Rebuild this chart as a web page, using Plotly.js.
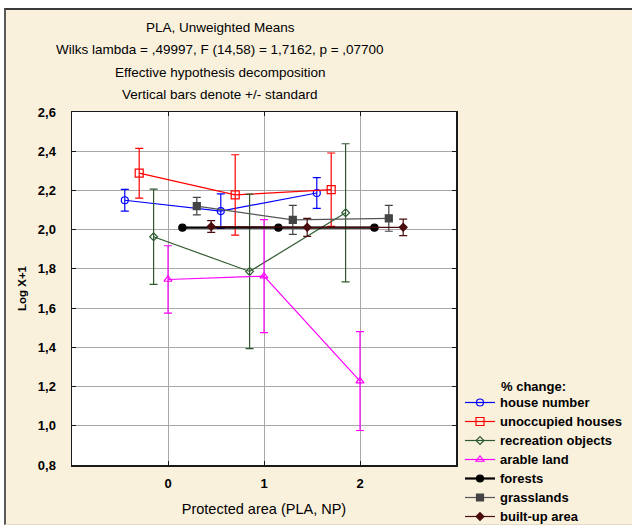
<!DOCTYPE html>
<html>
<head>
<meta charset="utf-8">
<script src="https://cdn.plot.ly/plotly-3.0.1.min.js"></script>
<style>
  html, body { margin: 0; padding: 0; background: #ffffff; }
  #frame { position: absolute; left: 4px; top: 8px; width: 626px; height: 514px;
           background: #FAF1DD; border-top: 2px solid #3a3a3a; border-left: 2px solid #5a5a5a;
           border-bottom: 1px solid #e6dcc6; }
  #chart { position: absolute; left: 0; top: 0; width: 632px; height: 526px; }
</style>
</head>
<body>
<div id="frame"></div>
<div id="chart"></div>
<script>
// ---- data ----
var categories = [0, 1, 2];
var tickLabels = ['0', '1', '2'];
var seriesNames = ['house number', 'unoccupied houses', 'recreation objects', 'arable land', 'forests', 'grasslands', 'built-up area'];

var houseNumber      = [2.150, 2.095, 2.187];
var houseNumberErr   = [0.055, 0.088, 0.078];
var unoccupied       = [2.288, 2.177, 2.204];
var unoccupiedErr    = [0.127, 0.205, 0.187];
var recreation       = [1.964, 1.787, 2.086];
var recreationErr    = [0.243, 0.394, 0.352];
var arable           = [1.746, 1.763, 1.228];
var arableErr        = [0.172, 0.288, 0.252];
var forests          = [2.010, 2.010, 2.010];
var forestsErr       = [0.004, 0.004, 0.004];
var grasslands       = [2.120, 2.050, 2.058];
var grasslandsErr    = [0.045, 0.074, 0.066];
var builtUp          = [2.016, 2.012, 2.012];
var builtUpErr       = [0.030, 0.046, 0.042];

var allValues = [houseNumber, unoccupied, recreation, arable, forests, grasslands, builtUp];
var allErrors = [houseNumberErr, unoccupiedErr, recreationErr, arableErr, forestsErr, grasslandsErr, builtUpErr];

// ---- styling ----
var dodge = [-0.45, -0.30, -0.15, 0, 0.15, 0.30, 0.45];
var colors = ['#0000FF', '#FF0000', '#2F5A2F', '#FF00FF', '#000000', '#444444', '#4A0C0C'];
var lineColors = ['#0000FF', '#FF0000', '#2F5A2F', '#FF00FF', '#000000', '#555555', '#4A0C0C'];
var symbols = ['circle-open', 'square-open', 'diamond-open', 'triangle-up-open', 'circle', 'square', 'diamond'];
var msizes = [7, 8, 6, 7, 7, 7, 6];
var lwidths = [1.2, 1.2, 1.2, 1.2, 2.2, 1.2, 1.2];

var traces = seriesNames.map(function (name, i) {
  return {
    type: 'scatter',
    mode: 'lines+markers',
    name: '<span style="font-size:13px">' + name + '</span>',
    x: categories.map(function (c) { return c + dodge[i]; }),
    y: allValues[i],
    error_y: { type: 'data', array: allErrors[i], visible: true, color: colors[i], thickness: 1.2, width: 4 },
    line: { color: lineColors[i], width: lwidths[i] },
    marker: { color: colors[i], symbol: symbols[i], size: msizes[i], line: { color: colors[i], width: 1.2 } }
  };
});

var L = 72, T = 112, W = 384, H = 353;
function px(x) { return (x - L) / W; }
function py(y) { return (T + H - y) / H; }

var titleFont = { family: 'Liberation Sans, Arial, sans-serif', size: 13.5, color: '#000' };
var titleLines = ['PLA, Unweighted Means',
  'Wilks lambda = ,49997, F (14,58) = 1,7162, p = ,07700',
  'Effective hypothesis decomposition',
  'Vertical bars denote +/- standard'];
var titleY = [27, 49.5, 72.5, 95];
var annotations = titleLines.map(function (t, i) {
  return { text: t, xref: 'paper', yref: 'paper', x: px(220), y: py(titleY[i]),
           xanchor: 'center', yanchor: 'middle', showarrow: false, font: titleFont };
});
annotations.push({ text: '% change:', xref: 'paper', yref: 'paper', x: px(499), y: py(386),
  xanchor: 'left', yanchor: 'middle', showarrow: false,
  font: { family: 'Liberation Sans, Arial, sans-serif', size: 13, weight: 'bold', color: '#000' } });

var layout = {
  width: 632, height: 526,
  margin: { l: L, r: 632 - L - W, t: T, b: 526 - T - H, pad: 0, autoexpand: false },
  paper_bgcolor: 'rgba(0,0,0,0)',
  plot_bgcolor: '#ffffff',
  separators: ',.',
  showlegend: true,
  legend: { x: px(460), y: py(388), xanchor: 'left', yanchor: 'top', bgcolor: 'rgba(0,0,0,0)',
            font: { family: 'Liberation Sans, Arial, sans-serif', size: 11.55, weight: 'bold', color: '#000' },
            tracegroupgap: 0, itemwidth: 30 },
  xaxis: {
    range: [-1, 3], tickvals: categories, ticktext: tickLabels,
    showgrid: true, gridcolor: '#A8A8A8', gridwidth: 1, zeroline: false,
    showline: true, linecolor: '#1a1a1a', linewidth: 1.5, mirror: 'ticks',
    ticks: 'inside', ticklen: 4, tickcolor: '#1a1a1a', ticklabelstandoff: 6,
    tickfont: { family: 'Liberation Sans, Arial, sans-serif', size: 13, weight: 'bold', color: '#000' },
    title: { text: 'Protected area (PLA, NP)', standoff: 14,
             font: { family: 'Liberation Sans, Arial, sans-serif', size: 14.5, color: '#000' } }
  },
  yaxis: {
    range: [0.8, 2.6], dtick: 0.2, tick0: 0.8, tickformat: '.1f',
    showgrid: true, gridcolor: '#A8A8A8', gridwidth: 1, zeroline: false,
    showline: true, linecolor: '#1a1a1a', linewidth: 1.5, mirror: 'ticks',
    ticks: 'inside', ticklen: 4, tickcolor: '#1a1a1a', ticklabelstandoff: 12,
    tickfont: { family: 'Liberation Sans, Arial, sans-serif', size: 13, weight: 'bold', color: '#000' },
    title: { text: 'Log X+1', standoff: 9,
             font: { family: 'Liberation Sans, Arial, sans-serif', size: 11.5, weight: 'bold', color: '#000' } }
  },
  annotations: annotations
};

Plotly.newPlot('chart', traces, layout, { displayModeBar: false, staticPlot: true });
</script>
</body>
</html>
